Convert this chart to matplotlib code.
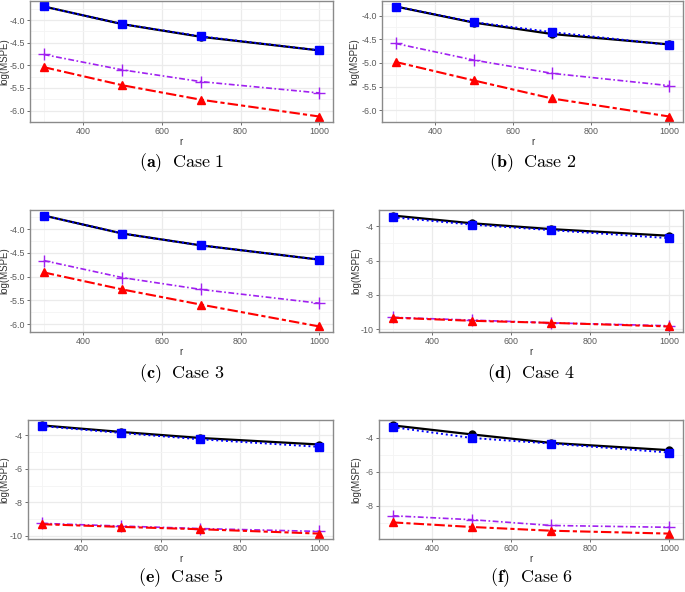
import matplotlib
matplotlib.use("Agg")
import matplotlib.pyplot as plt
import numpy as np

plt.rcParams['axes.unicode_minus'] = False
plt.rcParams['mathtext.fontset'] = 'cm'
plt.rcParams['font.family'] = ['Liberation Sans', 'DejaVu Sans']

r = [300, 500, 700, 1000]

# series per case: black (solid, circle), blue (dotted, square), purple (dotdash, +), red (twodash, triangle)
black = {
    1: [-3.70, -4.09, -4.37, -4.67],
    2: [-3.81, -4.15, -4.39, -4.61],
    3: [-3.71, -4.09, -4.34, -4.64],
    4: [-3.37, -3.82, -4.16, -4.55],
    5: [-3.41, -3.80, -4.16, -4.55],
    6: [-3.26, -3.79, -4.29, -4.72],
}
blue = {
    1: [-3.70, -4.09, -4.36, -4.67],
    2: [-3.81, -4.14, -4.35, -4.62],
    3: [-3.71, -4.09, -4.34, -4.64],
    4: [-3.47, -3.90, -4.22, -4.69],
    5: [-3.45, -3.86, -4.24, -4.69],
    6: [-3.36, -4.00, -4.33, -4.86],
}
purple = {
    1: [-4.76, -5.10, -5.36, -5.61],
    2: [-4.59, -4.94, -5.22, -5.48],
    3: [-4.66, -5.02, -5.27, -5.56],
    4: [-9.31, -9.47, -9.63, -9.80],
    5: [-9.26, -9.42, -9.57, -9.74],
    6: [-8.59, -8.82, -9.16, -9.27],
}
red = {
    1: [-5.04, -5.44, -5.76, -6.13],
    2: [-4.98, -5.37, -5.75, -6.13],
    3: [-4.91, -5.27, -5.59, -6.05],
    4: [-9.33, -9.51, -9.63, -9.84],
    5: [-9.31, -9.47, -9.61, -9.87],
    6: [-8.98, -9.25, -9.47, -9.64],
}
letters = ['a', 'b', 'c', 'd', 'e', 'f']
xticks = [400, 600, 800, 1000]
xminor = [300, 500, 700, 900]
yticks_small = [-6.0, -5.5, -5.0, -4.5, -4.0]
yticks_large = [-10, -8, -6, -4]

W, H = 685, 592
fig = plt.figure(figsize=(W / 100, H / 100), dpi=100)

# axes boxes in pixels: (left, top, right, bottom), y-label anchor x, caption y
boxes = {
    1: (30, 1, 333, 122, 9, 163),
    2: (382, 1, 683, 122, 359, 163),
    3: (30, 210, 333, 332, 9, 374),
    4: (379, 210, 683, 332, 361, 374),
    5: (28, 420, 333, 539, 9, 578),
    6: (379, 420, 683, 539, 361, 578),
}

grid_c = '#EBEBEB'
for k in range(1, 7):
    l, t, rr, b, ylx, capy = boxes[k]
    ax = fig.add_axes([l / W, 1 - b / H, (rr - l) / W, (b - t) / H])
    allv = black[k] + blue[k] + purple[k] + red[k]
    lo, hi = min(allv), max(allv)
    pad = 0.05 * (hi - lo)
    ax.set_xlim(265, 1035)
    ax.set_xticks(xticks)
    ax.set_xticks(xminor, minor=True)
    if k <= 3:
        yt = yticks_small
        ax.set_yticks(yt)
        ax.set_yticklabels(['%.1f' % v for v in yt])
        ax.set_yticks([v + 0.25 for v in yt[:-1]] + [-6.25, -3.75], minor=True)
    else:
        yt = yticks_large
        ax.set_yticks(yt)
        ax.set_yticklabels(['%d' % v for v in yt])
        ax.set_yticks([-9, -7, -5, -3], minor=True)
    ax.set_ylim(lo - pad, hi + pad)
    ax.grid(True, which='major', color=grid_c, lw=0.9)
    ax.grid(True, which='minor', color='#F4F4F4', lw=0.6)
    ax.set_axisbelow(True)
    for s in ax.spines.values():
        s.set_color('#8A8A8A')
        s.set_linewidth(1.0)
    ax.tick_params(which='major', length=2.5, width=0.6, color='#555555',
                   labelsize=6.4, labelcolor='#5A5A5A', pad=1.2)
    ax.tick_params(which='minor', length=0)
    ax.set_ylabel('log(MSPE)', fontsize=7, color='#333333')
    ax.yaxis.set_label_coords((ylx - l) / (rr - l), 0.5)
    ax.set_xlabel('r', fontsize=7, color='#333333', labelpad=0.5)

    ax.plot(r, purple[k], color='#A020F0', lw=1.2, ls=(0, (3.5, 1.5, 1, 1.5)),
            marker='+', ms=8, mew=1.0)
    ax.plot(r, red[k], color='#FF0000', lw=1.5, ls=(0, (5, 1.5, 2, 1.5)),
            marker='^', ms=5.5)
    ax.plot(r, black[k], color='black', lw=1.6, ls='-', marker='o', ms=5)
    ax.plot(r, blue[k], color='#0000FF', lw=1.4, ls=(0, (1, 1.5)),
            marker='s', ms=5.5)

    cx = (l + rr) / 2 / W
    cy = 1 - capy / H
    fig.text(cx, cy, r'$\mathbf{(%s)}\ \ \mathrm{Case\ %d}$' % (letters[k - 1], k),
             ha='center', va='center', fontsize=13)

fig.savefig('out.png', dpi=100)
